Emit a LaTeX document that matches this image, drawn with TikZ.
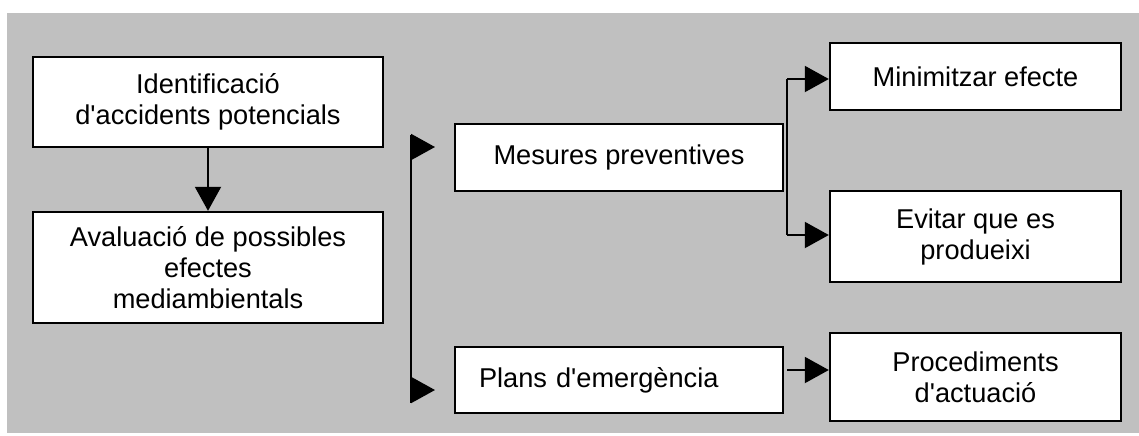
\documentclass[tikz,border=0pt]{standalone}
\usepackage{fontspec}
\setmainfont{Liberation Sans}
\usepackage{tikz}
\usetikzlibrary{arrows.meta}
\definecolor{panel}{RGB}{192,192,192}
\tikzset{
    box/.style={rectangle, draw, fill=white, line width=1.2pt, align=center,
    	font=\fontsize{13.6pt}{15.5pt}\selectfont}
}
\tikzset{
    arr/.style={line width=1pt, -{Triangle[length=12pt,width=13pt]}}
}
\tikzset{
    bar/.style={line width=1pt}
}

\begin{document}
\begin{tikzpicture}[x=0.5pt, y=-0.5pt]
  \useasboundingbox (0,0) rectangle (1139,435);
  \fill[white] (0,0) rectangle (1139,435);
  \fill[panel] (7,13) rectangle (1139,433);

  \node (1) [box, minimum width=175pt, minimum height=45pt] at (208,102)
    {Identificació\\d\textquotesingle accidents potencials};
  \node (2) [box, minimum width=175pt, minimum height=55.5pt] at (208,267.5)
    {Avaluació de possibles\\efectes\\mediambientals};
  \node (3) [box, minimum width=164pt, minimum height=33.5pt] at (619,157.5)
    {Mesures preventives};
  \node (4) [box, text width=140pt, inner xsep=12pt, align=left,
    minimum height=33pt] at (619,380) {Plans d\textquotesingle emergència};
  \node (5) [box, minimum width=145.5pt, minimum height=33.5pt] at (975.5,76.5)
    {Minimitzar efecte};
  \node (6) [box, minimum width=145.5pt, minimum height=45.5pt] at (975.5,236.5)
    {Evitar que es\\produeixi};
  \node (7) [box, minimum width=145.5pt, minimum height=44pt] at (975.5,377)
    {Procediments\\d\textquotesingle actuació};

  \coordinate (b1) at (411,135);
  \coordinate (b2) at (411,403);
  \coordinate (t1) at (411,147);
  \coordinate (h1) at (435,147);
  \coordinate (t2) at (411,390);
  \coordinate (h2) at (435,390);
  \coordinate (r1) at (787,79);
  \coordinate (r2) at (787,235);
  \coordinate (p1) at (787,370);

  \draw (1) edge[arr] (2);
  \draw[bar] (b1) -- (b2);
  \draw (t1) edge[arr] (h1); \draw (t2) edge[arr] (h2);
  \draw[bar] (r1) -- (r2);
  \draw (r1) edge[arr] (r1 -| 5.west); \draw (r2) edge[arr] (r2 -| 6.west);
  \draw (p1) edge[arr] (p1 -| 7.west);
\end{tikzpicture}
\end{document}
